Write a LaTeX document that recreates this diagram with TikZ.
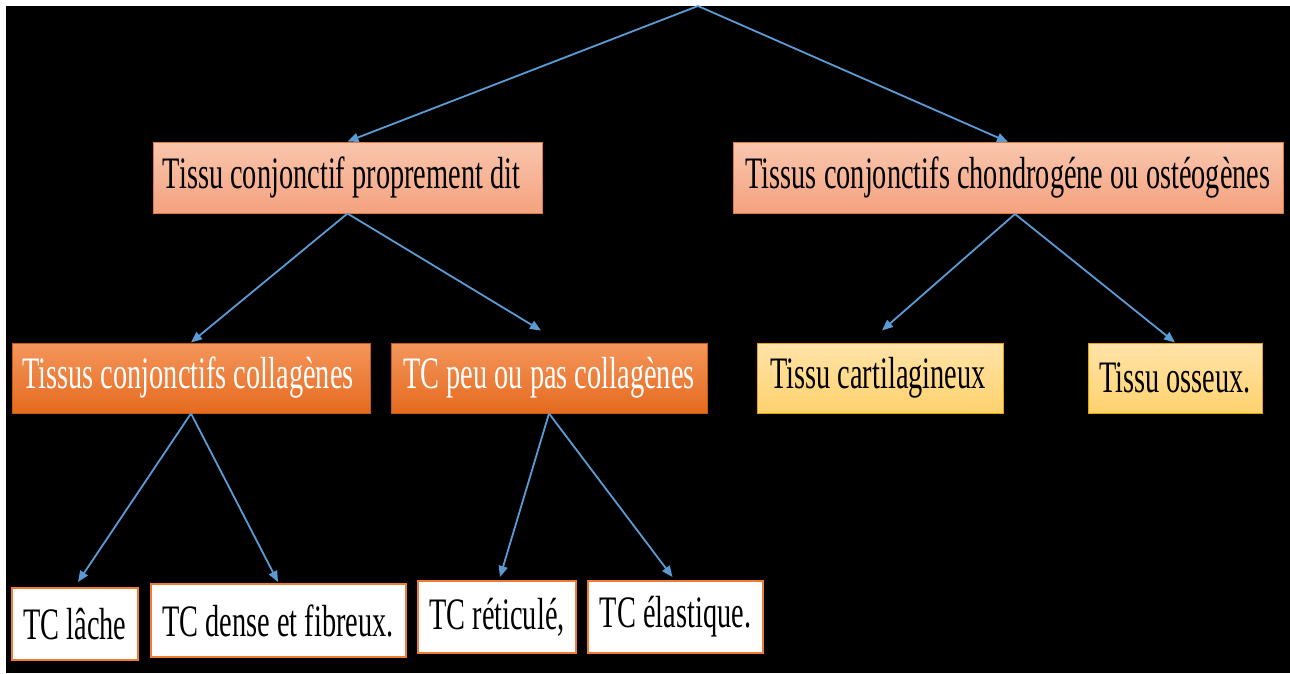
\documentclass[tikz,border=0pt]{standalone}
\usepackage{fontspec}
\newfontfamily\condfont[FakeStretch=0.63]{Liberation Serif}
\usetikzlibrary{arrows.meta,calc}
\definecolor{arrowblue}{HTML}{5B9BD5}
\definecolor{salmontop}{HTML}{F9C6AE}
\definecolor{salmonbot}{HTML}{F4A27F}
\definecolor{salmonline}{HTML}{E07B40}
\definecolor{orangetop}{HTML}{F4965B}
\definecolor{orangebot}{HTML}{E56A1F}
\definecolor{orangeline}{HTML}{C55A11}
\definecolor{yellowtop}{HTML}{FFE3A8}
\definecolor{yellowbot}{HTML}{FFD26E}
\definecolor{yellowline}{HTML}{E3A600}
\definecolor{leafline}{HTML}{ED7D31}
\tikzset{
  box/.style={rectangle, inner sep=0pt, font=\condfont\fontsize{45}{50}\selectfont, align=center},
  levelone/.style={box, top color=salmontop, bottom color=salmonbot, draw=salmonline, line width=1pt, text=black},
  leveltwo/.style={box, top color=orangetop, bottom color=orangebot, draw=orangeline, line width=1pt, text=white},
  levelthree/.style={box, top color=yellowtop, bottom color=yellowbot, draw=yellowline, line width=1pt, text=black},
  leaf/.style={box, fill=white, draw=leafline, line width=2pt, text=black},
  conn/.style={draw=arrowblue, line width=1.8pt, -{Triangle[length=11pt,width=9pt]}}
}
\begin{document}
\begin{tikzpicture}[x=1pt,y=-1pt]
\useasboundingbox (0,0) rectangle (1290,673);
\fill[black] (0,0) rectangle (1290,673);
\fill[white] (0,0) rectangle (1290,6);
\fill[white] (0,0) rectangle (6,673);

\coordinate (apex) at (698,6);

\node[levelone, minimum width=389pt, minimum height=71pt] (A) at (347.5,177.5) {Tissu conjonctif proprement dit\hspace{12pt}};
\node[levelone, minimum width=550pt, minimum height=71pt] (B) at (1008,178) {Tissus conjonctifs chondrogéne ou ostéogènes};

\node[leveltwo, minimum width=358pt, minimum height=70pt] (C) at (191,378) {Tissus conjonctifs collagènes\hspace{6pt}};
\node[leveltwo, minimum width=316pt, minimum height=70pt] (D) at (549,378) {TC peu ou pas collagènes};
\node[levelthree, minimum width=246pt, minimum height=70pt] (E) at (880,378) {Tissu cartilagineux\hspace{4pt}};
\node[levelthree, minimum width=174pt, minimum height=70pt] (F) at (1175,378) {Tissu osseux.};

\node[leaf, minimum width=126pt, minimum height=72pt] (G) at (75,624) {TC lâche};
\node[leaf, minimum width=255pt, minimum height=73pt] (H) at (278,620.5) {TC dense et fibreux.};
\node[leaf, minimum width=158pt, minimum height=72pt] (I) at (497,617) {TC réticulé,};
\node[leaf, minimum width=175pt, minimum height=72pt] (J) at (675.5,617) {TC élastique.};

\coordinate (Dtip) at ($(D.north)+(-8,-12)$);
\coordinate (Etip) at ($(E.north)+(2,-12)$);
\coordinate (Gtip) at ($(G.north)+(3,-5)$);
\coordinate (Htip) at ($(H.north)+(0,-1)$);
\coordinate (Itip) at ($(I.north)+(3,-3)$);
\coordinate (Jtip) at ($(J.north)+(-3,-3)$);
\coordinate (Bfoot) at ($(B.south)+(7,0)$);

\draw[conn] (apex) -- (A.north);
\draw[conn] (apex) -- (B.north);
\draw[conn] (A.south) -- (C.north);
\draw[conn] (A.south) -- (Dtip);
\draw[conn] (Bfoot) -- (Etip);
\draw[conn] (Bfoot) -- (F.north);
\draw[conn] (C.south) -- (Gtip);
\draw[conn] (C.south) -- (Htip);
\draw[conn] (D.south) -- (Itip);
\draw[conn] (D.south) -- (Jtip);
\end{tikzpicture}
\end{document}
